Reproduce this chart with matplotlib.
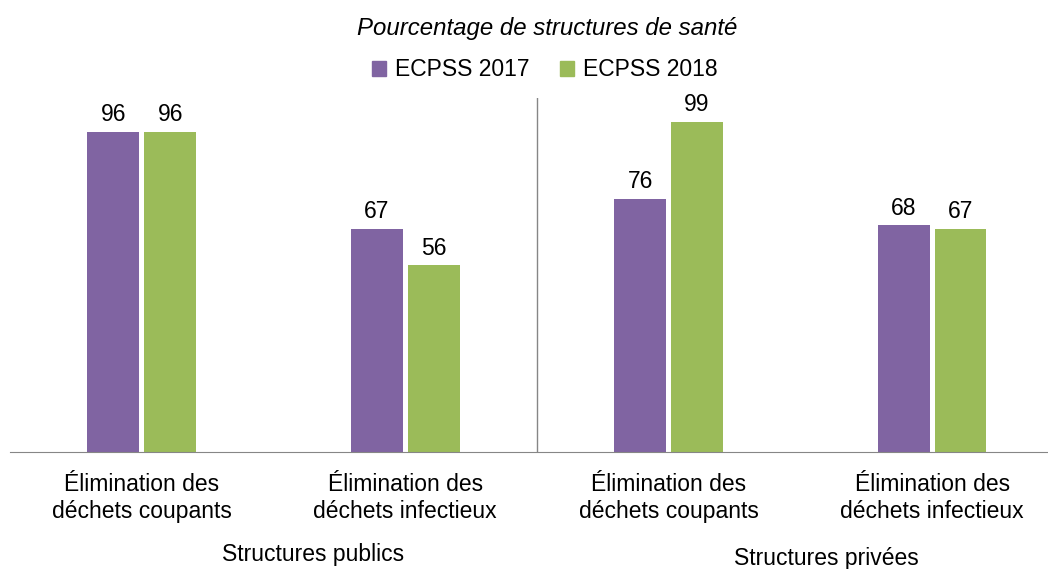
import matplotlib.pyplot as plt
import matplotlib.transforms as mtransforms
from matplotlib.patches import Patch
import numpy as np

plt.rcParams['font.family'] = ['Liberation Sans', 'DejaVu Sans']

categories = ['Élimination des\ndéchets coupants', 'Élimination des\ndéchets infectieux',
              'Élimination des\ndéchets coupants', 'Élimination des\ndéchets infectieux']
groups = ['Structures publics', 'Structures privées']
series_names = ['ECPSS 2017', 'ECPSS 2018']
values_2017 = [96, 67, 76, 68]
values_2018 = [96, 56, 99, 67]

purple = '#8064A2'
green = '#9BBB59'
axis_grey = '#868686'

W, H = 1048, 569
fig = plt.figure(figsize=(W / 100, H / 100), dpi=100)
ax = fig.add_axes([10 / W, (H - 452) / H, 1038 / W, 354 / H])

x = np.arange(len(categories))
bw = 0.197
off = 0.108
b1 = ax.bar(x - off, values_2017, bw, color=purple, label=series_names[0])
b2 = ax.bar(x + off, values_2018, bw, color=green, label=series_names[1])
for bars in (b1, b2):
    ax.bar_label(bars, padding=4, fontsize=16.5, color='#000000')

ax.set_xlim(-0.5, 3.44)
ax.set_ylim(0, 106.2)
ax.axvline(1.5, color=axis_grey, lw=1)

for s in ['top', 'right', 'left']:
    ax.spines[s].set_visible(False)
ax.spines['bottom'].set_color(axis_grey)
ax.set_yticks([])
ax.set_xticks(x)
ax.set_xticklabels(categories, fontsize=16.5, linespacing=1.25)
ax.tick_params(axis='x', length=0, pad=15)

trans = mtransforms.blended_transform_factory(ax.transData, fig.transFigure)
ax.text(0.65, 1 - 555 / H, groups[0], transform=trans, ha='center', va='center', fontsize=16.5)
ax.text(2.60, 1 - 558 / H, groups[1], transform=trans, ha='center', va='center', fontsize=16.5)

fig.text(547 / W, 1 - 28 / H, 'Pourcentage de structures de santé', ha='center', va='center',
         fontsize=17.3, style='italic')

handles = [Patch(color=purple), Patch(color=green)]
fig.legend(handles, series_names, loc='center', bbox_to_anchor=(545 / W, 1 - 70 / H), ncol=2,
           frameon=False, fontsize=16.5, handlelength=0.6, handleheight=0.6,
           handletextpad=0.4, columnspacing=1.34)

fig.savefig('out.png', dpi=100)
